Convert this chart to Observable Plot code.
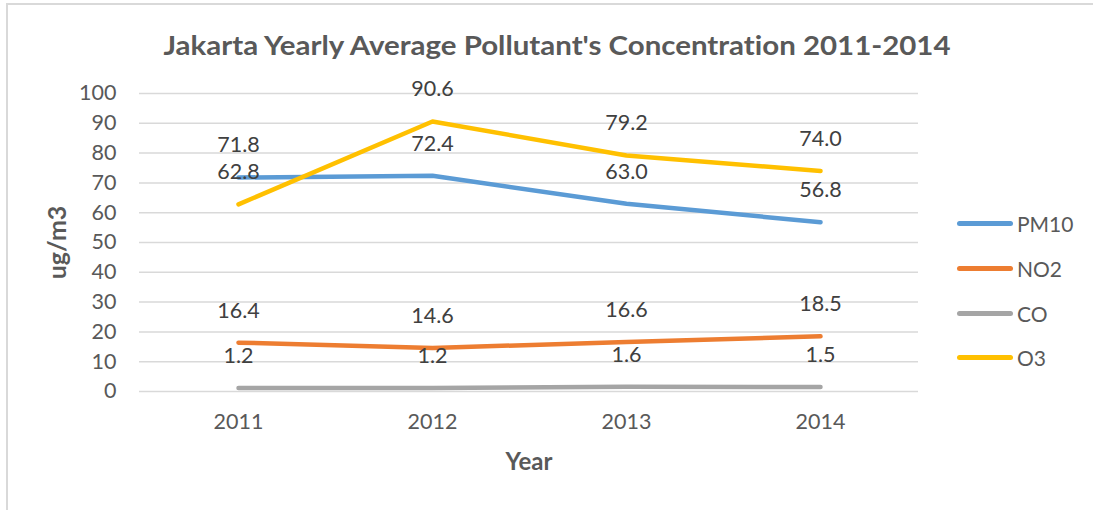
<!DOCTYPE html>
<html><head><meta charset="utf-8">
<script src="https://cdn.jsdelivr.net/npm/d3@7"></script>
<script src="https://cdn.jsdelivr.net/npm/@observablehq/plot@0.6"></script>
<style>
body{margin:0;background:#fff;font-family:Lato,"Open Sans",sans-serif}
#wrap{position:relative;width:1093px;height:510px;overflow:hidden;background:#fff}
#wrap svg{position:absolute;left:0;top:0;font-variant-ligatures:none}
#frame{position:absolute;left:6px;top:3px;width:1100px;height:520px;border-left:2px solid #d9d9d9;border-top:2px solid #d9d9d9}
.leg{position:absolute;left:957px;height:22px;display:flex;align-items:center;font-size:21px;color:#595959}
.leg span.sw{display:inline-block;width:56px;height:5px;border-radius:3px;margin-right:4px}
</style></head><body><div id="wrap"><div id="frame"></div></div>
<script>
const years = ["2011", "2012", "2013", "2014"];
const pm10 = [71.8, 72.4, 63.0, 56.8];
const no2 = [16.4, 14.6, 16.6, 18.5];
const co = [1.2, 1.2, 1.6, 1.5];
const o3 = [62.8, 90.6, 79.2, 74.0];
const seriesNames = ["PM10", "NO2", "CO", "O3"];
const seriesColors = ["#5B9BD5", "#ED7D31", "#A5A5A5", "#FFC000"];
const yTicks = [0, 10, 20, 30, 40, 50, 60, 70, 80, 90, 100];
const titleText = "Jakarta Yearly Average Pollutant's Concentration 2011-2014";
const yLabel = "ug/m3";
const xLabel = "Year";

const seriesValues = [pm10, no2, co, o3];
const rows = seriesNames.flatMap((s, i) => years.map((yr, j) => ({series: s, year: yr, value: seriesValues[i][j]})));

const chart = Plot.plot({
  width: 1093, height: 510,
  marginLeft: 139, marginRight: 175, marginTop: 93, marginBottom: 119,
  style: {fontFamily: "Lato, 'Open Sans', sans-serif", background: "transparent", overflow: "visible"},
  x: {type: "point", domain: years, padding: 0.5, align: 0.5},
  y: {domain: [0, 100]},
  color: {domain: seriesNames, range: seriesColors},
  marks: [
    Plot.gridY(yTicks, {stroke: "#d9d9d9", strokeOpacity: 1, strokeWidth: 1.5}),
    Plot.axisY(yTicks, {tickSize: 0, tickPadding: 23, fontSize: 21.5, fill: "#595959", label: null}),
    Plot.axisX(years, {tickSize: 0, tickPadding: 22, fontSize: 21.5, fill: "#595959", label: null}),
    Plot.line(rows, {x: "year", y: "value", z: "series", stroke: "series", strokeWidth: 4.5, strokeLinecap: "round", strokeLinejoin: "round"}),
    Plot.text(rows, {x: "year", y: "value", text: d => d.value.toFixed(1), dy: -32, fontSize: 21.5, fill: "#404040"}),
    Plot.text([titleText], {frameAnchor: "top", textAnchor: "middle", lineAnchor: "middle", dx: 28, dy: -47, fontSize: 27, fontWeight: "bold", fill: "#595959", className: "chart-title"}),
    Plot.text([yLabel], {frameAnchor: "left", textAnchor: "middle", lineAnchor: "middle", dx: -82, rotate: -90, fontSize: 25, fontWeight: "bold", fill: "#595959"}),
    Plot.text([xLabel], {frameAnchor: "bottom", textAnchor: "middle", lineAnchor: "middle", dy: 71, fontSize: 24, fontWeight: "bold", fill: "#595959"})
  ]
});
const wrap = document.getElementById("wrap");
wrap.appendChild(chart);
d3.select(chart).selectAll(".chart-title text").attr("textLength", 787).attr("lengthAdjust", "spacingAndGlyphs");
const legTops = [223, 268, 313, 357];
seriesNames.forEach((s, i) => {
  const d = document.createElement("div");
  d.className = "leg";
  d.style.top = (legTops[i] - 11) + "px";
  d.innerHTML = `<span class="sw" style="background:${seriesColors[i]}"></span>${s}`;
  wrap.appendChild(d);
});
</script></body></html>
